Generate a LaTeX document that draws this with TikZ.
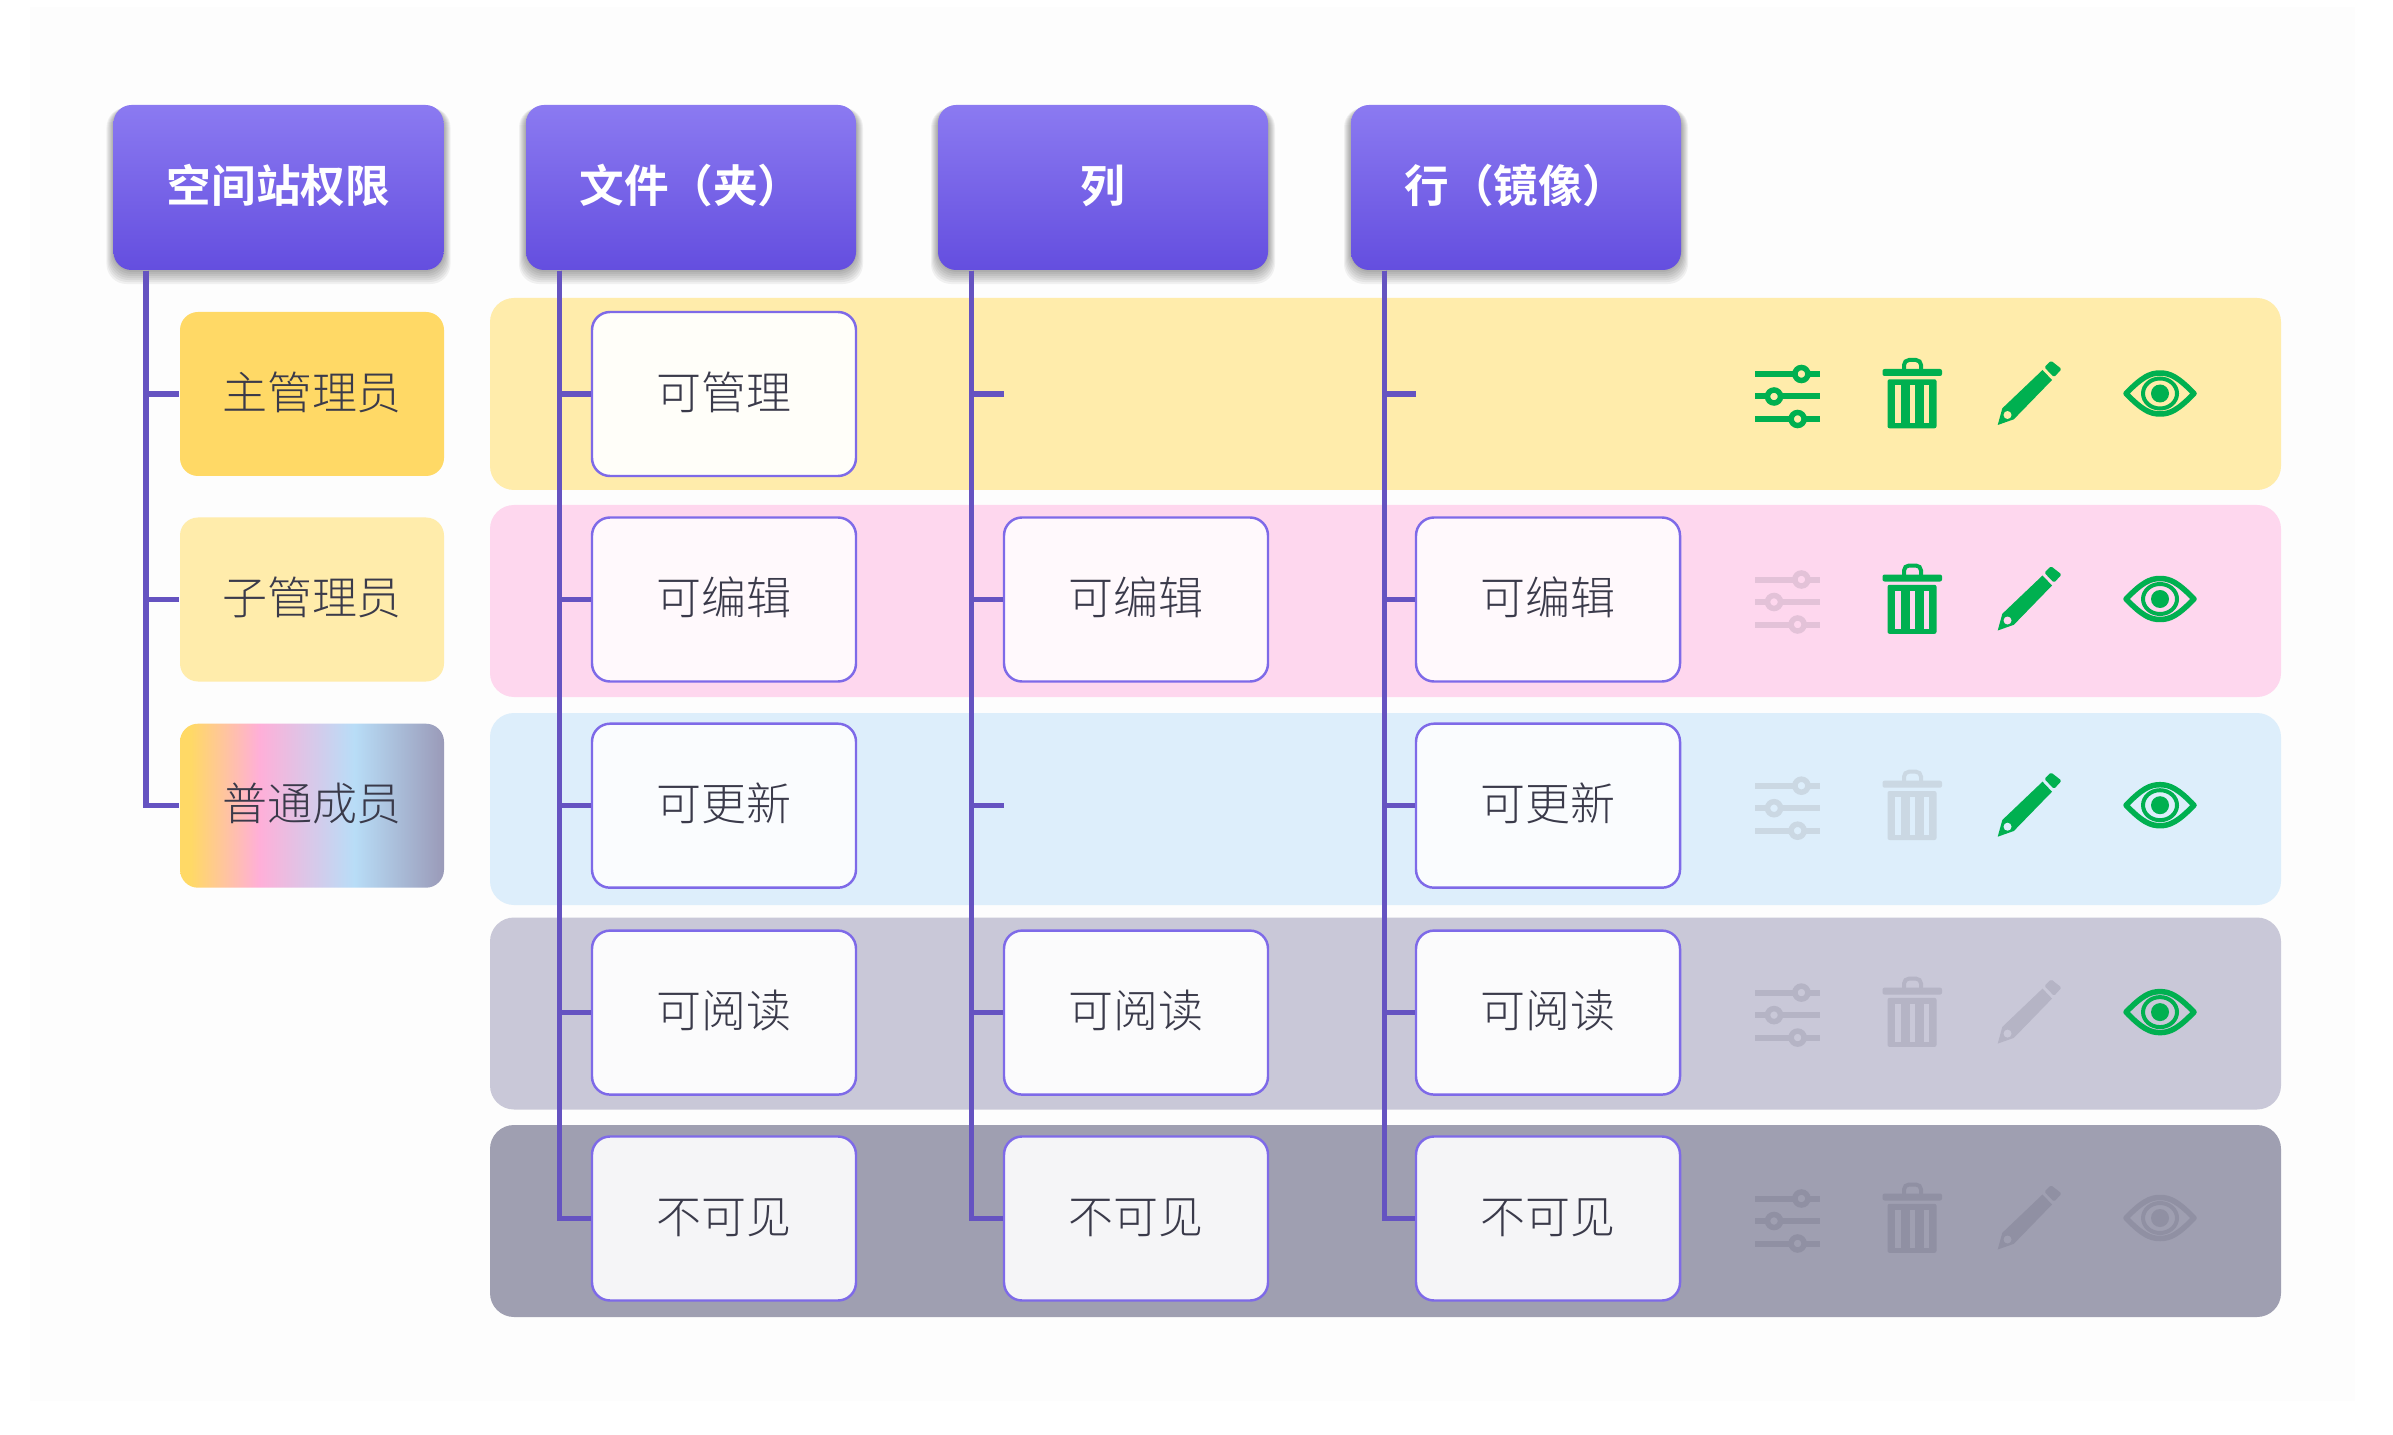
\documentclass[tikz,border=0pt]{standalone}
\usepackage{fontspec}
\setmainfont[UprightFont={* Light},BoldFont={* Bold}]{Noto Sans CJK SC}
\usetikzlibrary{calc}
\definecolor{headtop}{HTML}{8B7AF1}
\definecolor{headmid}{HTML}{7A60F0}
\definecolor{headbot}{HTML}{644EDF}
\definecolor{trunkblue}{HTML}{6553C1}
\definecolor{boxline}{HTML}{7E6AE8}
\definecolor{inktext}{HTML}{3A3A4A}
\definecolor{okgreen}{HTML}{00B050}
\definecolor{bandyellow}{HTML}{FFECAB}
\definecolor{bandpink}{HTML}{FED7EE}
\definecolor{bandblue}{HTML}{DDEEFB}
\definecolor{bandgrey}{HTML}{C9C8D8}
\definecolor{banddark}{HTML}{9F9FB1}
\definecolor{roleyellow}{HTML}{FFD966}
\definecolor{memberpink}{HTML}{FFAFD8}
\definecolor{memberblue}{HTML}{B8DDF7}
\definecolor{membergrey}{HTML}{9A9AB8}
\definecolor{fadepink}{HTML}{E3C2D8}
\definecolor{fadeblue}{HTML}{CBD8E3}
\definecolor{fadegrey}{HTML}{B5B4C5}
\definecolor{fadedark}{HTML}{9090A3}
\definecolor{pageface}{HTML}{FDFDFD}
\pgfdeclarehorizontalshading{memberfade}{100bp}{color(0bp)=(roleyellow); color(27bp)=(roleyellow);
  color(40bp)=(memberpink); color(58bp)=(memberblue);
  color(75bp)=(membergrey); color(100bp)=(membergrey)}

% ── icons: #1 row height, #2 ink, #3 band colour ──
\newcommand{\slidersicon}[3]{%
  \begin{scope}[yshift=#1cm]
    \draw[line width=0.06cm, #2] (17.55,0.2) -- (18.2,0.2);
    \draw[line width=0.06cm, #2] (17.55,-0.025) -- (18.2,-0.025);
    \draw[line width=0.06cm, #2] (17.55,-0.25) -- (18.2,-0.25);
    \draw[line width=0.055cm, draw=#2, fill=#3] (18.014,0.2) circle (0.065);
    \draw[line width=0.055cm, draw=#2, fill=#3] (17.74,-0.025) circle (0.065);
    \draw[line width=0.055cm, draw=#2, fill=#3] (17.976,-0.25) circle (0.065);
  \end{scope}}
\newcommand{\trashicon}[3]{%
  \begin{scope}[yshift=#1cm]
    \draw[line width=0.04cm, #2, rounded corners=0.05cm] (19.04,0.24) -- (19.04,0.34) -- (19.21,0.34) -- (19.21,0.24);
    \fill[#2, rounded corners=0.02cm] (18.825,0.18) rectangle (19.42,0.25);
    \fill[#2, rounded corners=0.02cm] (18.875,-0.343) rectangle (19.365,0.147);
    \fill[#3] (18.95,-0.29) rectangle (19.01,0.09);
    \fill[#3] (19.095,-0.29) rectangle (19.15,0.09);
    \fill[#3] (19.235,-0.29) rectangle (19.29,0.09);
  \end{scope}}
\newcommand{\pencilicon}[3]{%
  \begin{scope}[yshift=#1cm]
    \fill[#2] (20.425,0.24) -- (20.52,0.14) -- (20.138,-0.253) -- (19.977,-0.31) -- (20.023,-0.143) -- cycle;
    \fill[#2, rounded corners=0.015cm] (20.51,0.333) -- (20.616,0.25) -- (20.54,0.167) -- (20.444,0.267) -- cycle;
    \fill[#3] (20.075,-0.21) circle (0.04);
  \end{scope}}
\newcommand{\eyeicon}[3]{%
  \begin{scope}[yshift=#1cm]
    \draw[line width=0.055cm, #2, line join=round] (21.26,0.005)
      .. controls (21.42,0.17) and (21.5,0.21) .. (21.6,0.21)
      .. controls (21.7,0.21) and (21.78,0.17) .. (21.94,0.005)
      .. controls (21.78,-0.16) and (21.7,-0.2) .. (21.6,-0.2)
      .. controls (21.5,-0.2) and (21.42,-0.16) .. (21.26,0.005) -- cycle;
    \draw[line width=0.04cm, #2] (21.6,0.005) ellipse (0.17 and 0.15);
    \fill[#2] (21.6,0.005) circle (0.09);
  \end{scope}}

\begin{document}
\begin{tikzpicture}[
    font=\fontsize{12.8}{15}\selectfont,
    % ── shared styles ──
    head box/.style={rounded corners=0.18cm, minimum width=3.3cm, minimum height=1.65cm,
        top color=headtop, middle color=headmid, bottom color=headbot,
        text=white, font=\fontsize{12.7}{15}\selectfont\bfseries,
        text height=0.36cm, text depth=0.06cm},
    role box/.style={rounded corners=0.18cm, minimum width=2.64cm, minimum height=1.64cm,
        text=inktext, text height=0.36cm, text depth=0.06cm},
    perm box/.style={draw=boxline, line width=0.7pt, rounded corners=0.18cm,
        minimum width=2.64cm, minimum height=1.64cm, text=inktext, fill=#1,
        text height=0.36cm, text depth=0.06cm},
    band/.style={rounded corners=0.24cm, minimum width=17.91cm, minimum height=1.92cm, fill=#1},
    trunk/.style={draw=trunkblue, line width=0.055cm},
]
\useasboundingbox (0,0) rectangle (23.93,-14.35);

% ══ DIMENSIONS ══
\def\colA{7.24} \def\colB{11.36} \def\colC{15.48}
\def\rowA{-3.94} \def\rowB{-5.995} \def\rowC{-8.057} \def\rowD{-10.126} \def\rowE{-12.185}

% ══ PAGE + BANDS ══
\fill[pageface] (0.3,-0.07) rectangle (23.55,-14.01);
\node[band=bandyellow] (bandManage) at (13.855,-3.94) {};
\node[band=bandpink]   (bandEdit)   at (13.855,-6.01) {};
\node[band=bandblue]   (bandUpdate) at (13.855,-8.09) {};
\node[band=bandgrey]   (bandRead)   at (13.855,-10.135) {};
\node[band=banddark]   (bandHide)   at (13.855,-12.21) {};

% ══ HEADERS ══
\coordinate (sSpace) at (2.785,-1.875);
\coordinate (sFile)  at (6.91,-1.875);
\coordinate (sCol)   at (11.03,-1.875);
\coordinate (sRow)   at (15.16,-1.875);
\foreach \h in {sSpace,sFile,sCol,sRow}
  \foreach \g in {0.01,0.02,...,0.08}
    \fill[black, opacity=0.05, rounded corners=0.2cm]
      ($(\h)+(-1.65-\g,-0.825-2*\g)$) rectangle ($(\h)+(1.65+\g,0.8)$);

\node[head box] (hSpace) at (sSpace) {空间站权限};
\node[head box] (hFile)  at (sFile)  {文件（夹）};
\node[head box] (hCol)   at (sCol)   {列};
\node[head box] (hRow)   at (sRow)   {行（镜像）};

% ── roles ──
\node[role box, fill=roleyellow] (rOwner)  at (3.12,\rowA) {主管理员};
\node[role box, fill=bandyellow] (rSub)    at (3.12,\rowB) {子管理员};
\node[role box, shading=memberfade] (rMember) at (3.12,\rowC) {普通成员};

% ── file column ──
\node[perm box=white!93!bandyellow] (fManage) at (\colA,\rowA) {可管理};
\node[perm box=white!85!bandpink]   (fEdit)   at (\colA,\rowB) {可编辑};
\node[perm box=white!85!bandblue]   (fUpdate) at (\colA,\rowC) {可更新};
\node[perm box=white!92!bandgrey]   (fRead)   at (\colA,\rowD) {可阅读};
\node[perm box=white!90!banddark]   (fHide)   at (\colA,\rowE) {不可见};

% ── list column ──
\node[perm box=white!85!bandpink]   (cEdit) at (\colB,\rowB) {可编辑};
\node[perm box=white!92!bandgrey]   (cRead) at (\colB,\rowD) {可阅读};
\node[perm box=white!90!banddark]   (cHide) at (\colB,\rowE) {不可见};
\coordinate (cManage) at (10.04,\rowA);
\coordinate (cUpdate) at (10.04,\rowC);

% ── row column ──
\node[perm box=white!85!bandpink]   (wEdit)   at (\colC,\rowB) {可编辑};
\node[perm box=white!85!bandblue]   (wUpdate) at (\colC,\rowC) {可更新};
\node[perm box=white!92!bandgrey]   (wRead)   at (\colC,\rowD) {可阅读};
\node[perm box=white!90!banddark]   (wHide)   at (\colC,\rowE) {不可见};
\coordinate (wManage) at (14.16,\rowA);

% ══ TRUNKS ══
\coordinate (tSpace) at ($(hSpace.south west)+(0.33,0)$);
\coordinate (tFile)  at ($(hFile.south west)+(0.34,0)$);
\coordinate (tCol)   at ($(hCol.south west)+(0.34,0)$);
\coordinate (tRow)   at ($(hRow.south west)+(0.34,0)$);
\foreach \to in {rOwner,rSub,rMember}
  \draw[trunk] (tSpace) |- (\to.west);
\foreach \to in {fManage,fEdit,fUpdate,fRead,fHide}
  \draw[trunk] (tFile) |- (\to.west);
\foreach \to in {cEdit,cRead,cHide}
  \draw[trunk] (tCol) |- (\to.west);
\foreach \to in {cManage,cUpdate}
  \draw[trunk] (tCol) |- (\to);
\foreach \to in {wEdit,wUpdate,wRead,wHide}
  \draw[trunk] (tRow) |- (\to.west);
\draw[trunk] (tRow) |- (wManage);

% ══ ICONS ══
\slidersicon{\rowA}{okgreen}{bandyellow}
\trashicon{\rowA}{okgreen}{bandyellow}
\pencilicon{\rowA}{okgreen}{bandyellow}
\eyeicon{\rowA}{okgreen}{bandyellow}

\slidersicon{\rowB}{fadepink}{bandpink}
\trashicon{\rowB}{okgreen}{bandpink}
\pencilicon{\rowB}{okgreen}{bandpink}
\eyeicon{\rowB}{okgreen}{bandpink}

\slidersicon{\rowC}{fadeblue}{bandblue}
\trashicon{\rowC}{fadeblue}{bandblue}
\pencilicon{\rowC}{okgreen}{bandblue}
\eyeicon{\rowC}{okgreen}{bandblue}

\slidersicon{\rowD}{fadegrey}{bandgrey}
\trashicon{\rowD}{fadegrey}{bandgrey}
\pencilicon{\rowD}{fadegrey}{bandgrey}
\eyeicon{\rowD}{okgreen}{bandgrey}

\slidersicon{\rowE}{fadedark}{banddark}
\trashicon{\rowE}{fadedark}{banddark}
\pencilicon{\rowE}{fadedark}{banddark}
\eyeicon{\rowE}{fadedark}{banddark}

\end{tikzpicture}
\end{document}
